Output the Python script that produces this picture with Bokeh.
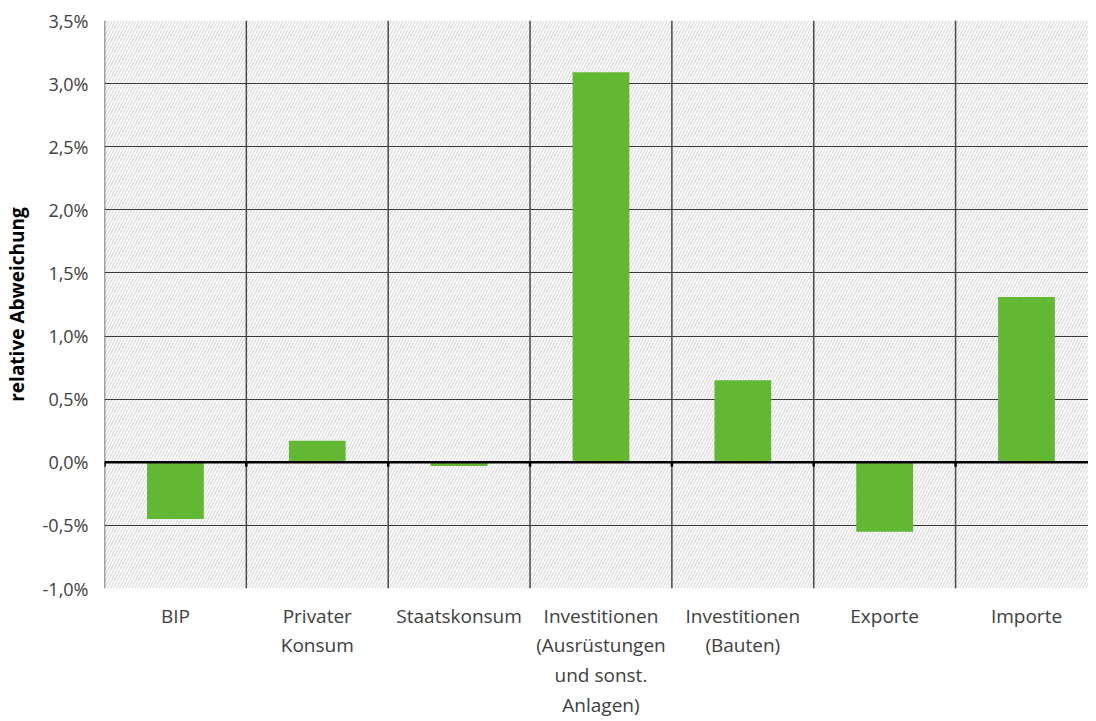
from bokeh.plotting import figure
from bokeh.models import Range1d, FixedTicker, BoxAnnotation, Span
from bokeh.embed import file_html
from bokeh.resources import INLINE

categories = ["BIP", "Privater\nKonsum", "Staatskonsum",
              "Investitionen\n(Ausrüstungen\nund sonst.\nAnlagen)",
              "Investitionen\n(Bauten)", "Exporte", "Importe"]
values = [-0.45, 0.17, -0.03, 3.09, 0.65, -0.55, 1.31]
y_ticks = [-1.0, -0.5, 0.0, 0.5, 1.0, 1.5, 2.0, 2.5, 3.0, 3.5]
y_labels = ["-1,0%", "-0,5%", "0,0%", "0,5%", "1,0%", "1,5%", "2,0%", "2,5%", "3,0%", "3,5%"]

FONT = "Open Sans"
W, H = 1088, 721
LEFT, TOP, BOTTOM = 96, 20, 133
cat_px = 143.0
inner_w = W - LEFT
x = list(range(len(categories)))

p = figure(width=W, height=H, output_backend="svg", toolbar_location=None,
           x_range=Range1d(-0.5, -0.5 + inner_w / cat_px),
           y_range=Range1d(-1.0, 3.5),
           min_border_left=LEFT, min_border_right=0,
           min_border_top=TOP, min_border_bottom=BOTTOM)
p.outline_line_color = None
p.background_fill_color = "white"

# hatched plot area
p.add_layout(BoxAnnotation(fill_alpha=0, line_alpha=0,
                           hatch_pattern="/", hatch_color="#dedede",
                           hatch_scale=6, hatch_weight=1.3, level="image"))

p.xgrid.grid_line_color = None
p.ygrid.ticker = FixedTicker(ticks=y_ticks)
p.ygrid.grid_line_color = "#3a3a3a"
p.ygrid.grid_line_width = 1.2

# vertical category separators
bounds = [i + 0.5 for i in range(-1, len(categories))]
for b in bounds:
    p.add_layout(Span(location=b, dimension="height", line_color="#4a4a4a",
                      line_width=1.5, level="underlay"))

p.vbar(x=x, top=values, bottom=0, width=0.40, fill_color="#62b832", line_color=None)

# zero line with ticks
p.add_layout(Span(location=0, dimension="width", line_color="black", line_width=2.5))
p.segment(x0=bounds, x1=bounds, y0=[0] * len(bounds), y1=[-0.035] * len(bounds),
          line_color="black", line_width=2.5)

p.yaxis.ticker = FixedTicker(ticks=y_ticks)
p.yaxis.major_label_overrides = {t: l for t, l in zip(y_ticks, y_labels)}
p.yaxis.major_tick_line_color = None
p.yaxis.minor_tick_line_color = None
p.yaxis.axis_line_color = None
p.yaxis.major_label_text_font = FONT
p.yaxis.major_label_text_font_size = "18px"
p.yaxis.major_label_text_color = "#404040"
p.yaxis.major_label_standoff = 10
p.yaxis.axis_label = "relative Abweichung"
p.yaxis.axis_label_text_font = FONT
p.yaxis.axis_label_text_font_size = "19px"
p.yaxis.axis_label_text_font_style = "bold"
p.yaxis.axis_label_text_color = "black"
p.yaxis.axis_label_standoff = 10

p.xaxis.ticker = FixedTicker(ticks=x)
p.xaxis.major_label_overrides = {i: c for i, c in zip(x, categories)}
p.xaxis.major_tick_line_color = None
p.xaxis.minor_tick_line_color = None
p.xaxis.axis_line_color = None
p.xaxis.major_label_text_font = FONT
p.xaxis.major_label_text_font_size = "19px"
p.xaxis.major_label_text_color = "#404040"
p.xaxis.major_label_text_line_height = 1.15
p.xaxis.major_label_standoff = 8

open("out.html", "w").write(file_html(p, INLINE))
